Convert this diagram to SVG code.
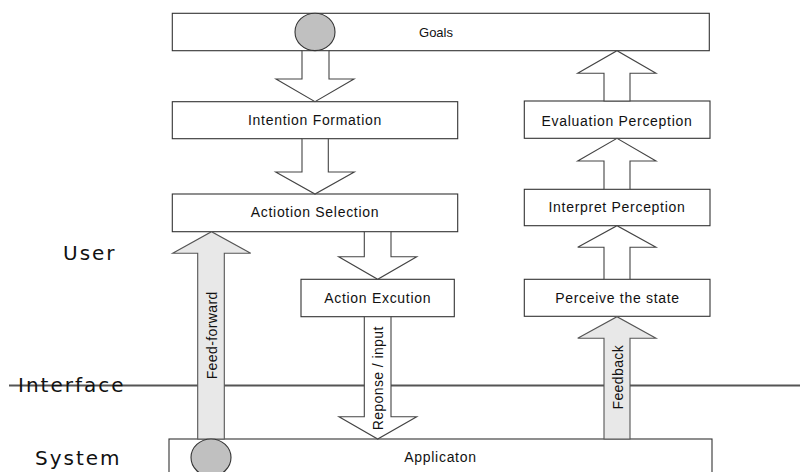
<svg xmlns="http://www.w3.org/2000/svg" width="806" height="472" viewBox="0 0 806 472">
<style>
.box{fill:#fff;stroke:#333;stroke-width:1.1}
.lbl{font-family:"Liberation Sans",Arial,sans-serif;font-size:14px;letter-spacing:0.7px;fill:#111;text-anchor:middle}
.side{font-family:"DejaVu Sans",Verdana,sans-serif;font-size:20px;letter-spacing:2px;fill:#111}
.arr{fill:#fff;stroke:#444;stroke-width:1.1;stroke-linejoin:miter}
.garr{fill:#e8e8e8;stroke:#555;stroke-width:1.1}
.dot{fill:#c0c0c0;stroke:#333;stroke-width:1.1}
.rot{font-family:"Liberation Sans",Arial,sans-serif;font-size:14px;letter-spacing:0.4px;fill:#111;text-anchor:middle}
</style>
<g id="layers">
<line x1="9" y1="385.5" x2="800" y2="385.5" stroke="#555" stroke-width="1.8"/>
<text class="side" x="63" y="260">User</text>
<text class="side" x="18" y="392">Interface</text>
<text class="side" x="35" y="465">System</text>
</g>
<g id="goals">
<rect class="box" x="172.3" y="13.3" width="537" height="37.4"/>
<text class="lbl" x="436" y="37" style="font-size:13px;letter-spacing:0">Goals</text>
</g>
<g id="intention">
<rect class="box" x="172.3" y="101.7" width="285.4" height="37"/>
<text class="lbl" x="315" y="125.3">Intention Formation</text>
</g>
<g id="selection">
<rect class="box" x="172.3" y="194" width="285.4" height="37.7"/>
<text class="lbl" x="315" y="217.3">Actiotion Selection</text>
</g>
<g id="execution">
<rect class="box" x="301" y="279.3" width="153.3" height="37.4"/>
<text class="lbl" x="377.7" y="302.8">Action Excution</text>
</g>
<g id="evaluation">
<rect class="box" x="524.3" y="101" width="185.7" height="37.3"/>
<text class="lbl" x="617" y="125.6">Evaluation Perception</text>
</g>
<g id="interpret">
<rect class="box" x="524.3" y="189.3" width="185.7" height="36.4"/>
<text class="lbl" x="617" y="212.3">Interpret Perception</text>
</g>
<g id="perceive">
<rect class="box" x="524.3" y="279.3" width="185.7" height="37"/>
<text class="lbl" x="617.5" y="303">Perceive the state</text>
</g>
<g id="application">
<rect class="box" x="169" y="439" width="543" height="45"/>
<text class="lbl" x="440.5" y="462">Applicaton</text>
</g>
<g id="connectors">
<polygon class="arr" points="302,50.7 329,50.7 329,79 354,79 315,101.7 276,79 302,79"/>
<polygon class="arr" points="302,138.7 328.3,138.7 328.3,172 354.3,172 315,194 275.7,172 302,172"/>
<polygon class="arr" points="364.3,231.7 391,231.7 391,256.7 416.7,256.7 377.7,279.3 338.7,256.7 364.3,256.7"/>
<polygon class="arr" points="364.3,316.7 391,316.7 391,416.7 416.7,416.7 377.7,439 339,416.7 364.3,416.7"/>
<polygon class="arr" points="604,101 630,101 630,73.3 656,73.3 617,50.7 577.7,73.3 604,73.3"/>
<polygon class="arr" points="604,189.3 630,189.3 630,161 656,161 617,138.3 577.7,161 604,161"/>
<polygon class="arr" points="604,279.3 630,279.3 630,247.3 656,247.3 617,225.7 577.7,247.3 604,247.3"/>
<polygon class="garr" points="604,439 630,439 630,338.3 656,338.3 617,316.7 577.7,338.3 604,338.3"/>
<polygon class="garr" points="197.7,439 224.3,439 224.3,253.3 250.7,253.3 211.5,231.7 172.7,253.3 197.7,253.3"/>
<text class="rot" transform="translate(216.5,335.3) rotate(-90)">Feed-forward</text>
<text class="rot" transform="translate(382.5,378.3) rotate(-90)">Reponse / input</text>
<text class="rot" transform="translate(622.5,377.2) rotate(-90)">Feedback</text>
</g>
<g id="markers">
<ellipse class="dot" cx="315" cy="31.9" rx="20" ry="18.7"/>
<ellipse class="dot" cx="211" cy="457.6" rx="20" ry="18.6"/>
</g>
</svg>
